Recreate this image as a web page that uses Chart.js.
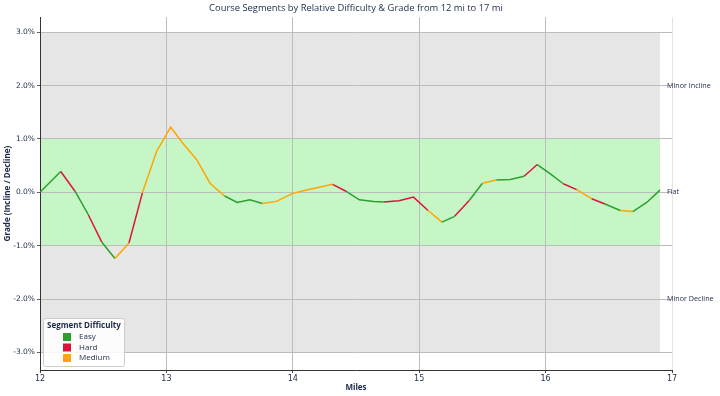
<!DOCTYPE html>
<html>
<head>
<meta charset="utf-8">
<script src="https://cdn.jsdelivr.net/npm/chart.js@4.4.1/dist/chart.umd.min.js"></script>
<style>
  html, body { margin: 0; padding: 0; background: #fff; }
  #wrap { width: 720px; height: 396px; }
</style>
</head>
<body>
<div id="wrap"><canvas id="gradeChart" width="720" height="396"></canvas></div>
<script>
// course profile, 12 mi to 17 mi
const miles = [12.0, 12.164, 12.277, 12.382, 12.488, 12.593, 12.704, 12.81, 12.923, 13.034,
  13.13, 13.24, 13.345, 13.46, 13.56, 13.66, 13.76, 13.87, 14.0, 14.1,
  14.2, 14.315, 14.42, 14.526, 14.64, 14.72, 14.84, 14.955, 15.07, 15.18,
  15.28, 15.396, 15.5, 15.61, 15.72, 15.83, 15.934, 16.04, 16.14, 16.246,
  16.364, 16.47, 16.59, 16.69, 16.8, 16.905];
const grades = [0.0, 0.39, 0.02, -0.42, -0.93, -1.24, -0.95, -0.01, 0.77, 1.22,
  0.92, 0.61, 0.17, -0.07, -0.19, -0.14, -0.21, -0.17, -0.02, 0.04,
  0.09, 0.15, 0.02, -0.14, -0.17, -0.18, -0.16, -0.09, -0.34, -0.56,
  -0.45, -0.155, 0.17, 0.23, 0.24, 0.30, 0.52, 0.34, 0.16, 0.05,
  -0.12, -0.22, -0.34, -0.36, -0.19, 0.04];
// difficulty of the segment that starts at each point
const difficulty = ['Easy', 'Hard', 'Easy', 'Hard', 'Easy', 'Medium', 'Hard', 'Medium', 'Medium', 'Medium',
  'Medium', 'Medium', 'Medium', 'Easy', 'Easy', 'Easy', 'Medium', 'Medium', 'Medium', 'Medium',
  'Medium', 'Hard', 'Easy', 'Easy', 'Easy', 'Hard', 'Hard', 'Hard', 'Medium', 'Easy',
  'Hard', 'Easy', 'Medium', 'Easy', 'Easy', 'Hard', 'Easy', 'Easy', 'Hard', 'Medium',
  'Hard', 'Easy', 'Medium', 'Easy', 'Easy'];

const legendLabels = ['Easy', 'Hard', 'Medium'];
const diffColors = { Easy: '#2ca02c', Hard: '#dc143c', Medium: '#ffa500' };

const yTicks = [-3, -2, -1, 0, 1, 2, 3];
const xTicks = [12, 13, 14, 15, 16, 17];
const zoneLabels = [[2, 'Minor Incline'], [0, 'Flat'], [-2, 'Minor Decline']];
const bandGray = [-3, 3];
const bandGreen = [-1, 1];

const navy = '#1c2b4a';
const tickFont = '"DejaVu Sans", sans-serif';
const textFont = '"Open Sans", sans-serif';

// shaded difficulty bands, drawn before the grid so the grid sits on top
const bandsPlugin = {
  id: 'bands',
  beforeDraw(chart) {
    const { ctx, scales: { x, y } } = chart;
    const x0 = x.getPixelForValue(miles[0]);
    const x1 = x.getPixelForValue(miles[miles.length - 1]);
    ctx.save();
    ctx.fillStyle = '#e6e6e6';
    ctx.fillRect(x0, y.getPixelForValue(bandGray[1]), x1 - x0,
      y.getPixelForValue(bandGray[0]) - y.getPixelForValue(bandGray[1]));
    ctx.fillStyle = '#c6f6c6';
    ctx.fillRect(x0, y.getPixelForValue(bandGreen[1]), x1 - x0,
      y.getPixelForValue(bandGreen[0]) - y.getPixelForValue(bandGreen[1]));
    ctx.restore();
  }
};

// right side zone names + custom legend box
const labelsPlugin = {
  id: 'zoneLabels',
  afterDraw(chart) {
    const { ctx, chartArea, scales: { y } } = chart;
    ctx.save();
    ctx.font = '7.2px ' + textFont;
    ctx.fillStyle = navy;
    ctx.textBaseline = 'middle';
    ctx.textAlign = 'left';
    zoneLabels.forEach(([v, txt]) => {
      ctx.fillText(txt, chartArea.right - 5, y.getPixelForValue(v));
    });

    // legend
    const bx = chartArea.left + 3, by = chartArea.bottom - 52, bw = 81, bh = 48;
    ctx.fillStyle = 'rgba(255,255,255,0.85)';
    ctx.strokeStyle = '#cccccc';
    ctx.lineWidth = 1;
    ctx.beginPath();
    ctx.roundRect(bx + 0.5, by + 0.5, bw, bh, 2);
    ctx.fill();
    ctx.stroke();
    ctx.fillStyle = navy;
    ctx.font = 'bold 8px ' + textFont;
    ctx.fillText('Segment Difficulty', bx + 4, by + 8);
    ctx.font = '8px ' + textFont;
    legendLabels.forEach((name, i) => {
      const cy = by + 19 + i * 10.5;
      ctx.fillStyle = diffColors[name];
      ctx.fillRect(bx + 20, cy - 4, 8, 8);
      ctx.fillStyle = navy;
      ctx.fillText(name, bx + 36, cy);
    });
    ctx.restore();
  }
};

const ctx = document.getElementById('gradeChart').getContext('2d');

const chart = new Chart(ctx, {
  type: 'line',
  data: {
    datasets: [{
      data: miles.map((m, i) => ({ x: m, y: grades[i] })),
      borderWidth: 1.5,
      pointRadius: 0,
      tension: 0,
      fill: false,
      segment: {
        borderColor: c => diffColors[difficulty[c.p0DataIndex]],
      },
    }]
  },
  options: {
    responsive: false,
    animation: false,
    layout: { padding: { left: 0, right: 48, top: 0, bottom: 0 } },
    scales: {
      x: {
        type: 'linear',
        min: 12,
        max: 17,
        afterBuildTicks: s => { s.ticks = xTicks.map(v => ({ value: v })); },
        afterFit: s => { s.height = 26; },
        border: { display: true, color: '#333333', width: 1 },
        grid: {
          color: c => c.tick && c.tick.value === 17 ? '#e4e4e4' : '#bcbcbc',
          lineWidth: 1, tickLength: 3, tickColor: '#444'
        },
        ticks: { color: navy, font: { size: 8, family: tickFont }, padding: 1, maxRotation: 0 },
        title: { display: true, text: 'Miles', color: navy, font: { size: 8, weight: 'bold', family: textFont }, padding: { top: 0, bottom: 3 } },
      },
      y: {
        min: -3.33,
        max: 3.28,
        afterBuildTicks: s => { s.ticks = yTicks.map(v => ({ value: v })); },
        afterFit: s => { s.width = 40; },
        border: { display: true, color: '#333333', width: 1 },
        grid: { color: '#bcbcbc', lineWidth: 1, tickLength: 3, tickColor: '#666' },
        ticks: {
          color: navy,
          font: { size: 7.5, family: tickFont },
          padding: 2,
          callback: v => v.toFixed(1) + '%',
        },
        title: { display: true, text: 'Grade (Incline / Decline)', color: navy, font: { size: 8, weight: 'bold', family: textFont }, padding: { top: 3, bottom: 0 } },
      }
    },
    plugins: {
      legend: { display: false },
      tooltip: { enabled: false },
      title: {
        display: true,
        fullSize: false,
        text: 'Course Segments by Relative Difficulty & Grade from 12 mi to 17 mi',
        color: navy,
        font: { size: 9.4, weight: 'normal', family: textFont },
        padding: { top: 3, bottom: 3 },
      },
    },
  },
  plugins: [bandsPlugin, labelsPlugin],
});
</script>
</body>
</html>
